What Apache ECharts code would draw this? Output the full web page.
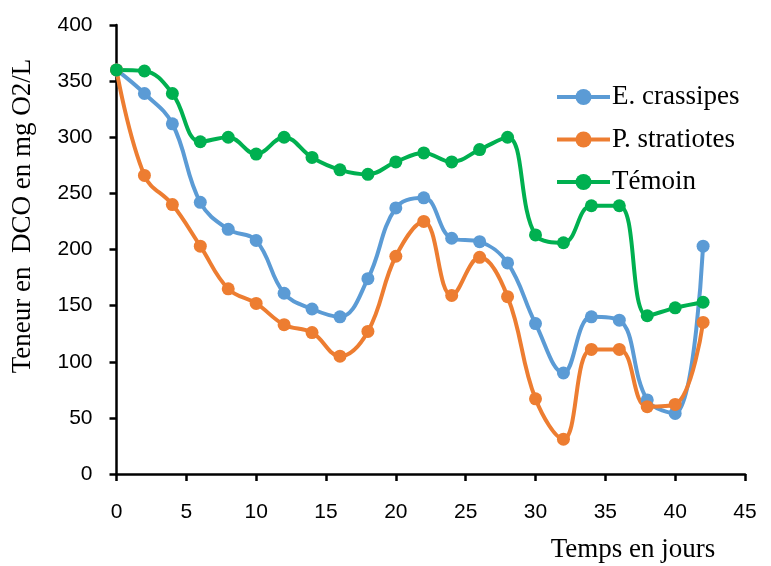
<!DOCTYPE html>
<html>
<head>
<meta charset="utf-8">
<script src="https://cdn.jsdelivr.net/npm/echarts@6/dist/echarts.min.js"></script>
<style>html,body{margin:0;padding:0;background:#fff}#c{width:771px;height:566px}</style>
</head>
<body>
<div id="c"></div>
<script>
const days = [0,2,4,6,8,10,12,14,16,18,20,22,24,26,28,30,32,34,36,38,40,42];
const eCrassipes = [360,339,312,242,218,208,161,147,140,174,237,246,210,207,188,134,90,140,137,66,54,203];
const pStratiotes = [360,266,240,203,165,152,133,126,105,127,194,225,159,193,158,67,31,111,111,60,62,135];
const temoin = [360,359,339,296,300,285,300,282,271,267,278,286,278,289,300,213,206,239,239,141,148,153];
const seriesNames = ['E. crassipes','P. stratiotes','Témoin'];
const colors = ['#5B9BD5','#ED7D31','#00B050'];
const xTicks = {min:0, max:45, interval:5};
const yTicks = {min:0, max:400, interval:50};

const pair = arr => days.map((d,i)=>[d,arr[i]]);
const chart = echarts.init(document.getElementById('c'));
const mk = (name, data, color) => ({
  name, type:'line', data: pair(data), smooth:0.4,
  symbol:'circle', symbolSize:13,
  lineStyle:{width:4,color}, itemStyle:{color},
});
chart.setOption({
  animation:false,
  grid:{left:116.5,right:26,top:25,bottom:92,containLabel:false},
  xAxis:{type:'value',min:xTicks.min,max:xTicks.max,interval:xTicks.interval,
    axisLine:{lineStyle:{color:'#000',width:2.5}},
    axisTick:{show:true,length:7,lineStyle:{color:'#000',width:2.5}},
    axisLabel:{color:'#000',fontFamily:'Liberation Sans',fontSize:21,margin:28},
    splitLine:{show:false}},
  yAxis:{type:'value',min:yTicks.min,max:yTicks.max,interval:yTicks.interval,
    axisLine:{show:true,lineStyle:{color:'#000',width:2.5}},
    axisTick:{show:true,length:7,lineStyle:{color:'#000',width:2.5}},
    axisLabel:{color:'#000',fontFamily:'Liberation Sans',fontSize:21,margin:24},
    splitLine:{show:false}},
  legend:{orient:'vertical',left:550,top:76,itemWidth:53,itemHeight:20,itemGap:10.5,
    data:seriesNames, lineStyle:{width:4},
    textStyle:{fontFamily:'Liberation Serif',fontSize:27,color:'#000',lineHeight:32,padding:[0,0,0,-3]}},
  series:[mk(seriesNames[0],eCrassipes,colors[0]),mk(seriesNames[1],pStratiotes,colors[1]),mk(seriesNames[2],temoin,colors[2])],
  graphic:[
    {type:'text',x:633,y:550,style:{text:'Temps en jours',font:'27px "Liberation Serif"',fill:'#000',textAlign:'center',textVerticalAlign:'middle'}},
    {type:'text',rotation:Math.PI/2,x:23,y:216,style:{text:'Teneur en  DCO en mg O2/L',font:'27px "Liberation Serif"',fill:'#000',textAlign:'center',textVerticalAlign:'middle'}}
  ]
});
</script>
</body>
</html>
